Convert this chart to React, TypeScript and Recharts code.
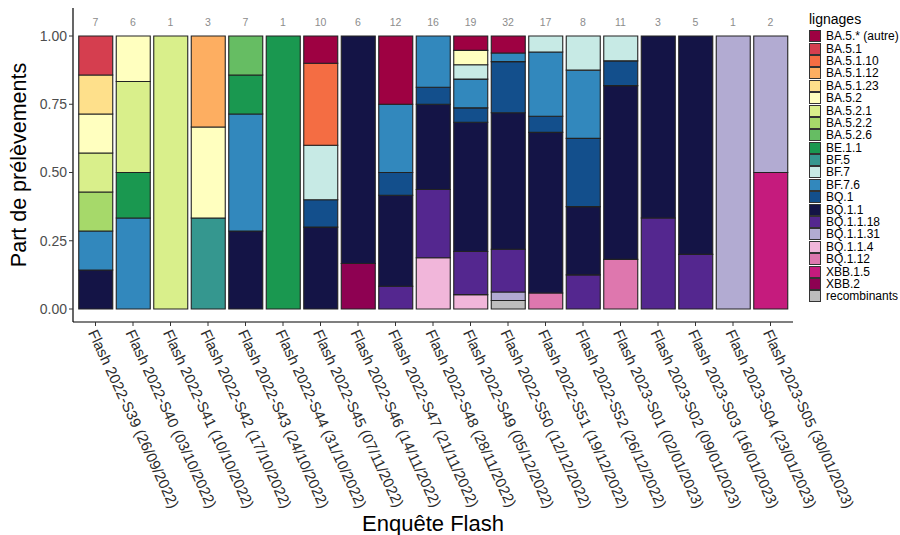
import { Bar, ComposedChart, LabelList, Line, XAxis, YAxis } from 'recharts';

const surveys = [
  'Flash 2022-S39 (26/09/2022)',
  'Flash 2022-S40 (03/10/2022)',
  'Flash 2022-S41 (10/10/2022)',
  'Flash 2022-S42 (17/10/2022)',
  'Flash 2022-S43 (24/10/2022)',
  'Flash 2022-S44 (31/10/2022)',
  'Flash 2022-S45 (07/11/2022)',
  'Flash 2022-S46 (14/11/2022)',
  'Flash 2022-S47 (21/11/2022)',
  'Flash 2022-S48 (28/11/2022)',
  'Flash 2022-S49 (05/12/2022)',
  'Flash 2022-S50 (12/12/2022)',
  'Flash 2022-S51 (19/12/2022)',
  'Flash 2022-S52 (26/12/2022)',
  'Flash 2023-S01 (02/01/2023)',
  'Flash 2023-S02 (09/01/2023)',
  'Flash 2023-S03 (16/01/2023)',
  'Flash 2023-S04 (23/01/2023)',
  'Flash 2023-S05 (30/01/2023)',
];

// nombre de prélèvements par enquête
const totals = [7, 6, 1, 3, 7, 1, 10, 6, 12, 16, 19, 32, 17, 8, 11, 3, 5, 1, 2];

// legend order (top of the stack first)
const lineages = [
  'BA.5.* (autre)', 'BA.5.1', 'BA.5.1.10', 'BA.5.1.12', 'BA.5.1.23', 'BA.5.2',
  'BA.5.2.1', 'BA.5.2.2', 'BA.5.2.6', 'BE.1.1', 'BF.5', 'BF.7', 'BF.7.6', 'BQ.1',
  'BQ.1.1', 'BQ.1.1.18', 'BQ.1.1.31', 'BQ.1.1.4', 'BQ.1.12', 'XBB.1.5', 'XBB.2',
  'recombinants',
];

const colors = [
  '#9e0142', '#d53e4f', '#f46d43', '#fdae61', '#fee08b', '#ffffbf',
  '#d9ef8b', '#a6d96a', '#66bd63', '#1a9850', '#35978f', '#c7eae5', '#3288bd', '#134f8c',
  '#141446', '#54278f', '#b2abd2', '#f1b6da', '#de77ae', '#c51b7d', '#8e0152',
  '#bdbdbd',
];

// counts per lineage, one value per survey
const ba5Autre = [0, 0, 0, 0, 0, 0, 1, 0, 3, 0, 1, 2, 0, 0, 0, 0, 0, 0, 0];
const ba51 = [1, 0, 0, 0, 0, 0, 0, 0, 0, 0, 0, 0, 0, 0, 0, 0, 0, 0, 0];
const ba5110 = [0, 0, 0, 0, 0, 0, 3, 0, 0, 0, 0, 0, 0, 0, 0, 0, 0, 0, 0];
const ba5112 = [0, 0, 0, 1, 0, 0, 0, 0, 0, 0, 0, 0, 0, 0, 0, 0, 0, 0, 0];
const ba5123 = [1, 0, 0, 0, 0, 0, 0, 0, 0, 0, 0, 0, 0, 0, 0, 0, 0, 0, 0];
const ba52 = [1, 1, 0, 1, 0, 0, 0, 0, 0, 0, 1, 0, 0, 0, 0, 0, 0, 0, 0];
const ba521 = [1, 2, 1, 0, 0, 0, 0, 0, 0, 0, 0, 0, 0, 0, 0, 0, 0, 0, 0];
const ba522 = [1, 0, 0, 0, 0, 0, 0, 0, 0, 0, 0, 0, 0, 0, 0, 0, 0, 0, 0];
const ba526 = [0, 0, 0, 0, 1, 0, 0, 0, 0, 0, 0, 0, 0, 0, 0, 0, 0, 0, 0];
const be11 = [0, 1, 0, 0, 1, 1, 0, 0, 0, 0, 0, 0, 0, 0, 0, 0, 0, 0, 0];
const bf5 = [0, 0, 0, 1, 0, 0, 0, 0, 0, 0, 0, 0, 0, 0, 0, 0, 0, 0, 0];
const bf7 = [0, 0, 0, 0, 0, 0, 2, 0, 0, 0, 1, 0, 1, 1, 1, 0, 0, 0, 0];
const bf76 = [1, 2, 0, 0, 3, 0, 0, 0, 3, 3, 2, 1, 4, 2, 0, 0, 0, 0, 0];
const bq1 = [0, 0, 0, 0, 0, 0, 1, 0, 1, 1, 1, 6, 1, 2, 1, 0, 0, 0, 0];
const bq11 = [1, 0, 0, 0, 2, 0, 3, 5, 4, 5, 9, 16, 10, 2, 7, 2, 4, 0, 0];
const bq1118 = [0, 0, 0, 0, 0, 0, 0, 0, 1, 4, 3, 5, 0, 1, 0, 1, 1, 0, 0];
const bq1131 = [0, 0, 0, 0, 0, 0, 0, 0, 0, 0, 0, 1, 0, 0, 0, 0, 0, 1, 1];
const bq114 = [0, 0, 0, 0, 0, 0, 0, 0, 0, 3, 1, 0, 0, 0, 0, 0, 0, 0, 0];
const bq112 = [0, 0, 0, 0, 0, 0, 0, 0, 0, 0, 0, 0, 1, 0, 2, 0, 0, 0, 0];
const xbb15 = [0, 0, 0, 0, 0, 0, 0, 0, 0, 0, 0, 0, 0, 0, 0, 0, 0, 0, 1];
const xbb2 = [0, 0, 0, 0, 0, 0, 0, 1, 0, 0, 0, 0, 0, 0, 0, 0, 0, 0, 0];
const recomb = [0, 0, 0, 0, 0, 0, 0, 0, 0, 0, 0, 1, 0, 0, 0, 0, 0, 0, 0];

const counts = [
  ba5Autre, ba51, ba5110, ba5112, ba5123, ba52, ba521, ba522, ba526, be11, bf5,
  bf7, bf76, bq1, bq11, bq1118, bq1131, bq114, bq112, xbb15, xbb2, recomb,
];

const yTicks = [0, 0.25, 0.5, 0.75, 1];

const data = surveys.map((s, i) => {
  const row: any = { survey: s, n: totals[i] };
  counts.forEach((arr, k) => {
    row[`l${k}`] = arr[i] / totals[i];
  });
  return row;
});

function XTick({ x, y, payload }: any) {
  return (
    <g transform={`translate(${x},${y})`}>
      <text transform="rotate(65)" x={1} y={9} textAnchor="start" fontSize={15} fill="#2b2b2b">
        {payload.value}
      </text>
    </g>
  );
}

function CountLabel({ x, y, value }: any) {
  return (
    <text x={x} y={y} dy="0.35em" textAnchor="middle" fontSize={10.5} fill="#8c8c8c">
      {value}
    </text>
  );
}

export default function App() {
  const font = '"Liberation Sans", Arial, sans-serif';
  return (
    <div style={{ position: 'absolute', left: 0, top: 0, width: 900, height: 535, background: '#fff', fontFamily: font }}>
      <ComposedChart
        width={900}
        height={535}
        data={data}
        margin={{ top: 8, right: 107, left: 0, bottom: 0 }}
        style={{ fontFamily: font }}
      >
        <XAxis
          dataKey="survey"
          interval={0}
          height={213}
          padding={{ left: 3.75, right: 3.75 }}
          tick={<XTick />}
          tickLine={{ stroke: '#333' }}
          tickSize={4}
          axisLine={{ stroke: '#000', strokeWidth: 1.2 }}
          label={{ value: 'Enquête Flash', position: 'insideBottom', offset: 4, fontSize: 22, fill: '#000' }}
        />
        <YAxis
          width={73}
          domain={[-0.0476, 1.1026]}
          ticks={yTicks}
          tickFormatter={(v: number) => v.toFixed(2)}
          tick={{ fontSize: 14, fill: '#4d4d4d' }}
          tickLine={{ stroke: '#333' }}
          tickSize={4}
          axisLine={{ stroke: '#000', strokeWidth: 1.2 }}
          label={{ value: 'Part de prélèvements', angle: -90, position: 'insideLeft', offset: 18, fontSize: 21.5, fill: '#000', style: { textAnchor: 'middle' } }}
        />
        {lineages
          .map((name, k) => ({ name, k }))
          .reverse()
          .map(({ name, k }) => (
            <Bar
              key={name}
              dataKey={`l${k}`}
              name={name}
              stackId="a"
              fill={colors[k]}
              stroke="#222"
              strokeWidth={1.1}
              barSize={34}
              isAnimationActive={false}
            />
          ))}
        <Line
          dataKey={() => 1.05}
          stroke="none"
          dot={false}
          activeDot={false}
          isAnimationActive={false}
        >
          <LabelList dataKey="n" content={<CountLabel />} />
        </Line>
      </ComposedChart>

      <div style={{ position: 'absolute', left: 809, top: 11, fontSize: 12, color: '#000' }}>
        <div style={{ fontSize: 14, marginBottom: 3 }}>lignages</div>
        {lineages.map((name, k) => (
          <div key={name} style={{ display: 'flex', alignItems: 'center', height: 12.4 }}>
            <span
              style={{
                display: 'inline-block',
                width: 10,
                height: 10,
                background: colors[k],
                border: '1px solid #333',
                marginRight: 5,
              }}
            />
            <span style={{ lineHeight: '12px' }}>{name}</span>
          </div>
        ))}
      </div>
    </div>
  );
}
